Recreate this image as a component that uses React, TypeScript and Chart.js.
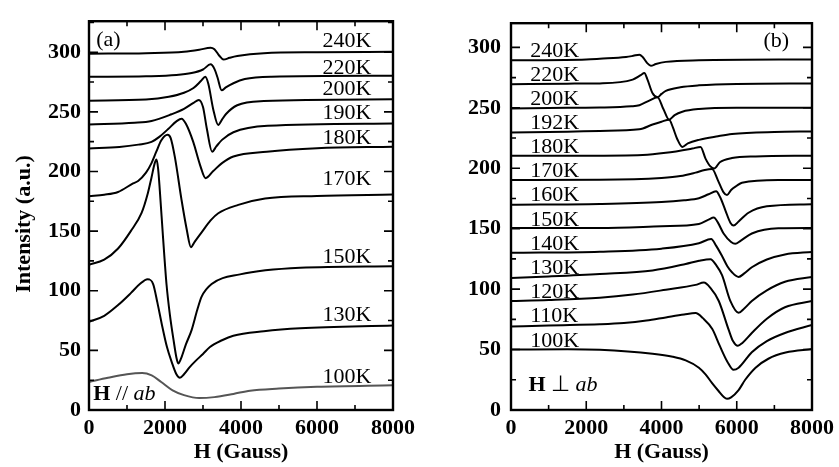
import React, { useEffect, useRef } from 'react';
import { Chart, registerables } from 'chart.js';
Chart.register(...registerables);

type P = [number, number][];

const FONT = "'Liberation Serif', 'Times New Roman', Times, serif";

const X_TICKS = [0, 2000, 4000, 6000, 8000];
const Y_TICKS = [0, 50, 100, 150, 200, 250, 300];

// ---------- Panel (a): H // ab ----------
const A_LABELS = ['240K', '220K', '200K', '190K', '180K', '170K', '150K', '130K', '100K'];
const a240: P = [[0,298.7],[1500,299.2],[2500,300.3],[2900,302],[3200,303.8],[3300,302.5],[3430,297],[3540,293.8],[3700,295.3],[3900,296.8],[4600,299.2],[6000,300],[8000,300.3]];
const a220: P = [[0,279.4],[1500,279.8],[2300,280.8],[2700,282.5],[3000,285.5],[3200,289.8],[3300,286],[3380,279],[3490,268],[3600,270.5],[3800,274],[4100,277.5],[4800,279.5],[8000,280.3]];
const a200: P = [[0,259.4],[1500,260.3],[2100,262.6],[2500,266],[2750,270],[2950,276],[3060,279.4],[3140,273.5],[3270,252],[3400,239],[3500,243.5],[3600,248],[3900,255.5],[4600,259],[8000,260.5]];
const a190: P = [[0,239.4],[1200,240.8],[1645,242.3],[2173,248],[2500,252.5],[2750,257.5],[2890,260],[3000,254],[3100,236],[3240,216.6],[3350,221],[3500,226.5],[3800,232.9],[4700,238.3],[8000,240.2]];
const a180: P = [[0,219.3],[800,220.5],[1300,222.5],[1645,224.8],[1850,229],[2084,235.6],[2300,242],[2436,244.3],[2550,240],[2743,224.8],[2919,205.8],[3069,194.4],[3270,200.4],[3500,207],[3800,212.6],[4678,216.6],[6000,219.5],[8000,220.7]];
const a170: P = [[0,179.3],[400,180.5],[765,182.8],[1160,190],[1292,192],[1500,199],[1645,207],[1777,217],[1900,226],[2067,230.7],[2150,228],[2260,212],[2436,176],[2568,152],[2682,136.5],[2780,141],[2964,149],[3200,159],[3402,165],[3929,172],[4633,177.3],[6000,179.5],[8000,180.6]];
const a150: P = [[0,121.8],[400,126],[765,135.4],[1100,150],[1381,165],[1550,182],[1645,195],[1730,207],[1777,210],[1820,202],[1864,184],[1951,143.5],[2041,105],[2128,80],[2233,57],[2300,44],[2349,39],[2420,43],[2550,55],[2700,67],[2850,84],[2964,95],[3227,105.6],[3974,113.7],[5556,119.2],[8000,120.5]];
const a130: P = [[0,74],[400,79],[765,88],[1100,98],[1337,105.6],[1540,109.7],[1688,105.6],[1800,90],[1909,73],[2050,53],[2173,40.6],[2300,30],[2392,27],[2500,30],[2650,36],[2800,41],[3000,47],[3183,52.8],[3500,58.5],[3797,62.3],[4600,66],[5556,68.5],[8000,70.9]];
const a100: P = [[0,23.5],[500,27],[1000,30],[1400,31],[1650,29],[1900,23.5],[2200,16.5],[2500,12.5],[2900,10],[3300,10.8],[3800,13.5],[4238,16.2],[5000,18],[6000,19.5],[8000,20.8]];
const A_SERIES = [a240, a220, a200, a190, a180, a170, a150, a130, a100];
const A_LABEL_Y = [304.6, 281.9, 264, 243.7, 223.4, 188.5, 123.5, 74.7, 22.7];

// ---------- Panel (b): H ⊥ ab ----------
const B_LABELS = ['240K', '220K', '200K', '192K', '180K', '170K', '160K', '150K', '140K', '130K', '120K', '110K', '100K'];
const b240: P = [[0,289.3],[2000,290],[2360,290.6],[3058,292],[3250,293],[3414,294],[3500,292],[3620,287],[3719,284.8],[3850,286.2],[4115,288],[4994,289.3],[8000,290]];
const b220: P = [[0,269.4],[1500,270],[2360,270.2],[3234,273.3],[3450,277],[3543,278.7],[3620,274],[3763,262],[3894,258.8],[4000,261.5],[4115,264],[4500,267],[4994,268.6],[6000,269.8],[8000,270.2]];
const b200: P = [[0,249.5],[1500,250],[2360,250.2],[3200,251.2],[3411,252.1],[3675,256],[3894,258.8],[4050,249],[4203,240.2],[4350,244],[4554,246.8],[4994,249],[6000,250],[8000,250]];
const b192: P = [[0,229.6],[1500,230.2],[2360,230.9],[3411,232.2],[3763,236.2],[4000,238.5],[4203,240.2],[4300,234],[4420,224],[4554,217.6],[4700,220.5],[4994,223.5],[5500,226.5],[5873,228.3],[7000,230],[8000,230.4]];
const b180: P = [[0,210.4],[2000,210.4],[3500,211],[4115,212.8],[4817,216.3],[5038,217.6],[5170,208],[5300,201.5],[5400,199.8],[5550,205],[5873,208.4],[6500,209.8],[8000,210.4]];
const b170: P = [[0,190.3],[2360,190.5],[4000,192],[4500,193.5],[4906,196.4],[5150,198.5],[5345,199.3],[5500,190],[5650,180],[5741,177.8],[5850,182],[6000,185.5],[6137,188],[7104,190.3],[8000,190.3]];
const b160: P = [[0,169.8],[2360,170.4],[4000,172],[4600,173.5],[4994,175.2],[5250,178.5],[5450,181],[5560,176],[5700,165],[5830,155],[5917,152.6],[6050,156],[6313,163.2],[6800,168.5],[8000,170.2]];
const b150: P = [[0,150.5],[2360,150.5],[4000,152],[4994,153.9],[5250,157.5],[5389,159.2],[5500,155],[5650,146],[5850,139],[5961,137.5],[6100,140],[6401,146],[7104,150.3],[8000,150.5]];
const b140: P = [[0,130],[2360,131],[4000,133.5],[4994,138],[5320,141.5],[5450,136],[5609,127.4],[5750,119],[5873,114],[6049,110.1],[6200,113],[6401,118.1],[6800,124.5],[7281,128.7],[8000,130.8]];
const b130: P = [[0,109.3],[1000,110.5],[2360,112.5],[3762,115.4],[4643,120.8],[5000,123.5],[5302,124.8],[5450,120],[5609,111.5],[5829,90.2],[6049,80.4],[6200,84],[6401,90.2],[6800,99],[7281,106.1],[8000,110.1]];
const b120: P = [[0,90.2],[1000,91],[2360,92.9],[3235,95.5],[4115,99.5],[4906,103.5],[5125,105.4],[5300,101],[5522,90.2],[5786,66.3],[5900,57],[6030,53.1],[6150,55.5],[6400,63.7],[6800,75.5],[7281,85],[8000,90.2]];
const b110: P = [[0,69],[1000,70],[2360,71],[3000,72],[3600,74],[4115,76.6],[4600,79],[4906,80.2],[5100,76],[5350,67],[5550,53],[5750,40],[5917,33.2],[6050,35],[6400,47.8],[6800,57],[7281,63.7],[8000,70.3]];
const b100: P = [[0,50],[1500,50.3],[2360,49.8],[3762,46.5],[4300,44],[4643,41],[4994,35],[5170,29.5],[5350,22],[5522,15.5],[5650,11],[5741,9.3],[5850,10.5],[6049,16.5],[6225,25],[6500,35],[6840,42.4],[7300,47.5],[8000,50.4]];
const B_SERIES = [b240, b220, b200, b192, b180, b170, b160, b150, b140, b130, b120, b110, b100];
const B_LABEL_Y = [292.4, 272.2, 252.2, 232.3, 212.4, 192.4, 172.5, 152.6, 132.5, 112.8, 93, 72.8, 52.3];

type Run = { t: string; style: string };

interface PanelCfg {
  series: P[];
  labels: string[];
  labelY: number[];
  labelX: number;
  labelAlign: CanvasTextAlign;
  colors: string[];
  yMax: number;
  yWidth: number;
  padTop: number;
  padRight: number;
  tickPad: number;
  tag: string;
  tagX: number;
  tagY: number;
  note: Run[];
  noteX: number;
  noteY: number;
  yTitle: string | null;
}

const frameTicks = {
  id: 'frameTicks',
  afterDraw(chart: any) {
    const { ctx, chartArea } = chart;
    const { left, right, top, bottom } = chartArea;
    const xs = chart.scales.x;
    const ys = chart.scales.y;
    ctx.save();
    ctx.strokeStyle = '#000';
    ctx.lineWidth = 1.6;
    ctx.beginPath();
    for (let v = 0; v <= 8000; v += 1000) {
      const px = xs.getPixelForValue(v);
      const len = v % 2000 === 0 ? 9 : 5;
      ctx.moveTo(px, bottom); ctx.lineTo(px, bottom - len);
      ctx.moveTo(px, top); ctx.lineTo(px, top + len);
    }
    for (let v = 0; v <= ys.max; v += 25) {
      const py = ys.getPixelForValue(v);
      const len = v % 50 === 0 ? 9 : 5;
      ctx.moveTo(left, py); ctx.lineTo(left + len, py);
      ctx.moveTo(right, py); ctx.lineTo(right - len, py);
    }
    ctx.stroke();
    ctx.lineWidth = 2.4;
    ctx.strokeRect(left, top, right - left, bottom - top);
    ctx.restore();
  },
};

const annot = {
  id: 'annot',
  afterDraw(chart: any, _args: any, opts: any) {
    const cfg: PanelCfg = opts.cfg;
    if (!cfg) return;
    const { ctx } = chart;
    const xs = chart.scales.x;
    const ys = chart.scales.y;
    ctx.save();
    ctx.fillStyle = '#000';
    ctx.textBaseline = 'alphabetic';
    ctx.font = `22px ${FONT}`;
    ctx.textAlign = cfg.labelAlign;
    cfg.labels.forEach((lab, i) => {
      ctx.fillText(lab, xs.getPixelForValue(cfg.labelX), ys.getPixelForValue(cfg.labelY[i]));
    });
    ctx.textAlign = 'left';
    ctx.fillText(cfg.tag, xs.getPixelForValue(cfg.tagX), ys.getPixelForValue(cfg.tagY));
    let x = xs.getPixelForValue(cfg.noteX);
    const y = ys.getPixelForValue(cfg.noteY);
    cfg.note.forEach((r) => {
      ctx.font = `${r.style} 22px ${FONT}`.trim();
      ctx.fillText(r.t, x, y);
      x += ctx.measureText(r.t).width;
    });
    if (cfg.yTitle) {
      ctx.font = `bold 22px ${FONT}`;
      ctx.translate(24, 224);
      ctx.rotate(-Math.PI / 2);
      ctx.textAlign = 'center';
      ctx.textBaseline = 'middle';
      ctx.fillText(cfg.yTitle, 0, 0);
    }
    ctx.restore();
  },
};

function makeChart(canvas: HTMLCanvasElement, cfg: PanelCfg) {
  const datasets = cfg.series.map((s, i) => ({
    label: cfg.labels[i],
    data: s.map(([x, y]) => ({ x, y })),
    borderColor: cfg.colors[i],
    borderWidth: 2,
    pointRadius: 0,
    fill: false,
    cubicInterpolationMode: 'monotone' as const,
  }));
  const tickFont = { family: FONT, size: 22, weight: 'bold' as const };
  return new Chart(canvas, {
    type: 'line',
    data: { datasets },
    options: {
      animation: false,
      responsive: false,
      maintainAspectRatio: false,
      events: [],
      layout: { padding: { top: cfg.padTop, right: cfg.padRight, left: 0, bottom: 0 } },
      plugins: {
        legend: { display: false },
        tooltip: { enabled: false },
        annot: { cfg },
      } as any,
      scales: {
        x: {
          type: 'linear',
          min: 0,
          max: 8000,
          grid: { display: false, drawTicks: false },
          border: { display: false },
          afterBuildTicks: (s: any) => { s.ticks = X_TICKS.map((v) => ({ value: v })); },
          afterFit: (s: any) => { s.height = 57; },
          ticks: { font: tickFont, color: '#000', padding: 5, maxRotation: 0, autoSkip: false, callback: (v: any) => String(v) },
          title: { display: true, text: 'H (Gauss)', font: tickFont, color: '#000', padding: { top: 0, bottom: 1 } },
        },
        y: {
          type: 'linear',
          min: 0,
          max: cfg.yMax,
          grid: { display: false, drawTicks: false },
          border: { display: false },
          afterBuildTicks: (s: any) => { s.ticks = Y_TICKS.map((v) => ({ value: v })); },
          afterFit: (s: any) => { s.width = cfg.yWidth; },
          ticks: { font: tickFont, color: '#000', padding: cfg.tickPad, autoSkip: false, callback: (v: any) => String(v) },
        },
      },
    } as any,
    plugins: [frameTicks, annot],
  });
}

const cfgA: PanelCfg = {
  series: A_SERIES,
  labels: A_LABELS,
  labelY: A_LABEL_Y,
  labelX: 7430,
  labelAlign: 'right',
  colors: A_LABELS.map((l) => (l === '100K' ? '#555555' : '#000000')),
  yMax: 326,
  yWidth: 89,
  padTop: 8,
  padRight: 27,
  tickPad: 8,
  tag: '(a)',
  tagX: 190,
  tagY: 305.4,
  note: [{ t: 'H', style: 'bold' }, { t: ' // ', style: '' }, { t: 'ab', style: 'italic' }],
  noteX: 110,
  noteY: 8.1,
  yTitle: 'Intensity (a.u.)',
};

const cfgB: PanelCfg = {
  series: B_SERIES,
  labels: B_LABELS,
  labelY: B_LABEL_Y,
  labelX: 509,
  labelAlign: 'left',
  colors: B_LABELS.map(() => '#000000'),
  yMax: 320,
  yWidth: 91,
  padTop: 7,
  padRight: 25,
  tickPad: 10,
  tag: '(b)',
  tagX: 6708,
  tagY: 300.6,
  note: [{ t: 'H', style: 'bold' }, { t: ' \u22A5 ', style: '' }, { t: 'ab', style: 'italic' }],
  noteX: 464,
  noteY: 15.9,
  yTitle: null,
};

export default function App() {
  const refA = useRef<HTMLCanvasElement>(null);
  const refB = useRef<HTMLCanvasElement>(null);
  useEffect(() => {
    document.body.style.margin = '0';
    const ca = refA.current ? makeChart(refA.current, cfgA) : null;
    const cb = refB.current ? makeChart(refB.current, cfgB) : null;
    return () => {
      ca?.destroy();
      cb?.destroy();
    };
  }, []);
  return (
    <div style={{ position: 'absolute', left: 0, top: 0, width: 839, height: 467, background: '#fff' }}>
      <canvas ref={refA} width={420} height={467} style={{ position: 'absolute', left: 0, top: 0, width: 420, height: 467 }} />
      <canvas ref={refB} width={419} height={467} style={{ position: 'absolute', left: 420, top: 0, width: 419, height: 467 }} />
    </div>
  );
}
